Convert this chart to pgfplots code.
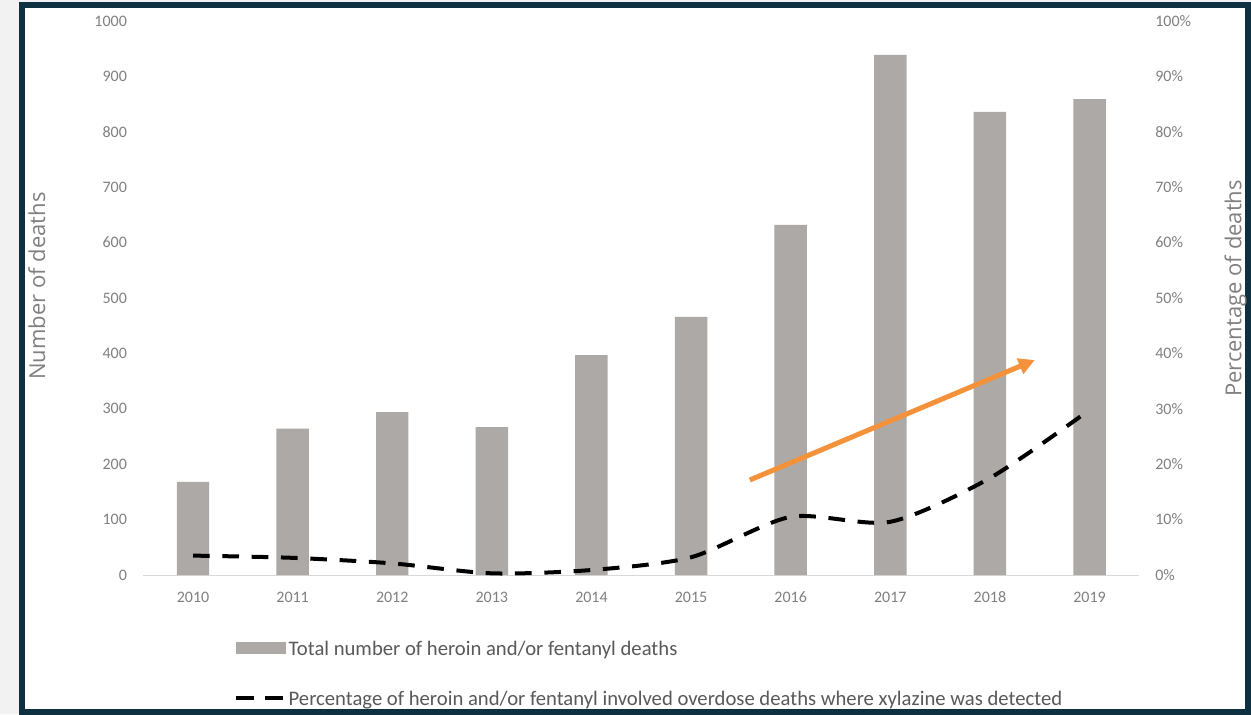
\documentclass[border=0pt]{standalone}
\usepackage{fontspec}
\setmainfont{Carlito}
\newfontfamily\titlefont{Open Sans}
\usepackage{pgfplots}
\pgfplotsset{compat=1.18}
\usepackage{pgfplotstable}
\usetikzlibrary{arrows.meta}
\definecolor{barcol}{RGB}{173,169,167}
\definecolor{framecol}{RGB}{14,48,64}
\definecolor{bggray}{RGB}{242,242,242}
\definecolor{ticktext}{RGB}{128,128,128}
\definecolor{legtext}{RGB}{89,89,89}
\definecolor{arroworange}{RGB}{244,146,60}

\pgfplotstableread{
x y
0 168
1 264
2 294
3 267
4 397
5 466
6 632
7 939
8 836
9 859
}\bardata

\pgfplotstableread{
x y
0 3.5
1 3.1
2 2.1
3 0.3
4 0.9
5 3.2
6 10.5
7 9.6
8 17.5
9 29.8
}\linedata

\begin{document}
\begin{tikzpicture}
\path[use as bounding box] (0,0) rectangle (938.25pt,535.5pt);
\fill[bggray] (0,0) rectangle (938.25pt,535.5pt);
\draw[framecol, line width=4.5pt, fill=white] (16.5pt,1.875pt) rectangle (936pt,531.375pt);

\begin{axis}[
  at={(107.4pt,104.25pt)}, anchor=south west,
  scale only axis, width=747.1pt, height=415.5pt,
  xmin=-0.5, xmax=9.5, ymin=0, ymax=1000,
  axis x line*=bottom, axis y line*=left,
  x axis line style={draw=black!15, line width=0.75pt, -},
  y axis line style={draw=none, -},
  major tick length=0pt,
  xtick={0,...,9},
  xticklabels={2010,2011,2012,2013,2014,2015,2016,2017,2018,2019},
  ytick={0,100,...,1000},
  tick label style={font=\fontsize{12}{14}\selectfont, text=ticktext, inner sep=0pt},
  xticklabel style={anchor=north, yshift=-12.5pt},
  yticklabel style={anchor=east, xshift=-12pt},
  /pgf/number format/assume math mode=true,
  /pgf/number format/1000 sep={},
]
\addplot[ybar, bar width=0.326, fill=barcol, draw=none] table[x=x,y=y]{\bardata};
\end{axis}

\begin{axis}[
  at={(107.4pt,104.25pt)}, anchor=south west,
  scale only axis, width=747.1pt, height=415.5pt,
  xmin=-0.5, xmax=9.5, ymin=0, ymax=100,
  axis x line=none, axis y line*=right,
  y axis line style={draw=none, -},
  major tick length=0pt,
  ytick={0,10,...,100},
  yticklabel={\pgfmathprintnumber{\tick}\%},
  tick label style={font=\fontsize{12}{14}\selectfont, text=ticktext, inner sep=0pt},
  yticklabel style={anchor=west, xshift=11.8pt},
  /pgf/number format/assume math mode=true,
  legend cell align=left,
  legend style={at={(0.0912,-0.1196)}, anchor=north west, draw=none, fill=none,
    inner sep=0pt, outer sep=0pt, row sep=25.25pt, column sep=0pt,
    font=\fontsize{15.5}{17}\selectfont, text=legtext,
    nodes={inner sep=0pt}},
]
\addlegendimage{legend image code/.code={\fill[barcol] (0pt,-3pt) rectangle (36.75pt,5.6pt);}}
\addlegendentry{Total number of heroin and/or fentanyl deaths}
\addplot[black, line width=3pt, dash pattern=on 12.5pt off 9.5pt, smooth, tension=0.45,
  legend image code/.code={\draw[black, line width=3pt, dash pattern=on 13.5pt off 8.25pt] (0pt,1.3pt) -- (35.25pt,1.3pt); \path (38pt,1.3pt);}]
  table[x=x,y=y]{\linedata};
\addlegendentry{Percentage of heroin and/or fentanyl involved overdose deaths where xylazine was detected}
\draw[arroworange, line width=3.75pt, -{Triangle[length=12pt, width=12pt]}] (axis cs:5.59,17.15) -- (axis cs:8.45,38.8);
\end{axis}

\node[rotate=90, anchor=base, font=\titlefont\fontsize{16.5}{18}\selectfont, text=ticktext] at (33.75pt,321pt) {Number of deaths};
\node[rotate=90, anchor=base, font=\titlefont\fontsize{16.5}{18}\selectfont, text=ticktext] at (931.1pt,319.1pt) {Percentage of deaths};
\end{tikzpicture}
\end{document}
